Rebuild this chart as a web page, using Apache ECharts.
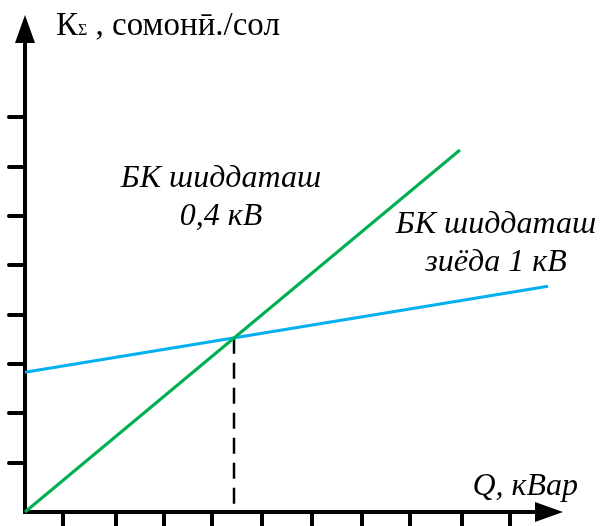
<!DOCTYPE html>
<html>
<head>
<meta charset="utf-8">
<script src="https://cdn.jsdelivr.net/npm/echarts@6/dist/echarts.min.js"></script>
<style>html,body{margin:0;padding:0;background:#fff}#c{width:603px;height:526px}</style>
</head>
<body>
<div id="c"></div>
<script>
// Data (arbitrary units: one tick = 1)
var greenQ = [0, 8.74];
var greenK = [0, 7.33];
var blueQ = [0, 10.51];
var blueK = [2.83, 4.57];
var crossQ = [4.2, 4.2];
var crossK = [3.53, 0];
var xTickValues = [0.75, 1.82, 2.79, 3.75, 4.76, 5.76, 6.77, 7.74, 8.78, 9.75];
var yTickValues = [1, 2, 3, 4, 5, 6, 7, 8];
var yAxisTitle = ['К', 'Σ', ' , сомонӣ./сол'];
var xAxisTitle = 'Q, кВар';
var labelLow = ['БК шиддаташ', '0,4 кВ'];
var labelHigh = ['БК шиддаташ', 'зиёда 1 кВ'];

function pairs(xs, ys) { return xs.map(function (x, i) { return [x, ys[i]]; }); }

var FONT = '"Liberation Serif", "Times New Roman", serif';
var chart = echarts.init(document.getElementById('c'));
var axisLineStyle = { color: '#000', width: 4, cap: 'square' };
chart.setOption({
  animation: false,
  backgroundColor: '#fff',
  grid: { left: 25, right: 54, top: 29, bottom: 14, containLabel: false },
  xAxis: {
    type: 'value', min: 0, max: 10.53,
    axisLine: { show: true, onZero: false, symbol: ['none', 'triangle'], symbolSize: [20, 28], lineStyle: axisLineStyle },
    axisTick: { show: true, inside: false, length: 16, customValues: xTickValues, lineStyle: { color: '#000', width: 4 } },
    axisLabel: { show: false },
    splitLine: { show: false }
  },
  yAxis: {
    type: 'value', min: 0, max: 9.78,
    axisLine: { show: true, onZero: false, symbol: ['none', 'triangle'], symbolSize: [20, 28], lineStyle: axisLineStyle },
    axisTick: { show: true, inside: false, length: 16, customValues: yTickValues, lineStyle: { color: '#000', width: 4, cap: 'round' } },
    axisLabel: { show: false },
    splitLine: { show: false }
  },
  series: [
    { type: 'line', data: pairs(greenQ, greenK), showSymbol: false, lineStyle: { color: '#00B050', width: 3 }, z: 3 },
    { type: 'line', data: pairs(blueQ, blueK), showSymbol: false, lineStyle: { color: '#00B0F0', width: 3 }, z: 2 },
    { type: 'line', data: pairs(crossQ, crossK), showSymbol: false, lineStyle: { color: '#000', width: 2.5, type: [16, 9] }, z: 1 }
  ],
  graphic: [
    { type: 'text', left: 56, top: 10, style: {
        text: '{a|' + yAxisTitle[0] + '}{b|' + yAxisTitle[1] + '}{a|' + yAxisTitle[2] + '}',
        rich: {
          a: { fontFamily: FONT, fontSize: 33, fill: '#000', verticalAlign: 'bottom' },
          b: { fontFamily: FONT, fontSize: 16, fill: '#000', verticalAlign: 'bottom', padding: [0, 0, 4, 0] }
        }
    } },
    { type: 'text', x: 578, y: 487, style: { text: xAxisTitle, font: 'italic 32px ' + FONT, fill: '#000', align: 'right', verticalAlign: 'middle' } },
    { type: 'text', x: 221, y: 198, style: { text: labelLow.join('\n'), font: 'italic 32px ' + FONT, lineHeight: 38, fill: '#000', align: 'center', verticalAlign: 'middle' } },
    { type: 'text', x: 496, y: 244, style: { text: labelHigh.join('\n'), font: 'italic 32px ' + FONT, lineHeight: 38, fill: '#000', align: 'center', verticalAlign: 'middle' } }
  ]
});
</script>
</body>
</html>
